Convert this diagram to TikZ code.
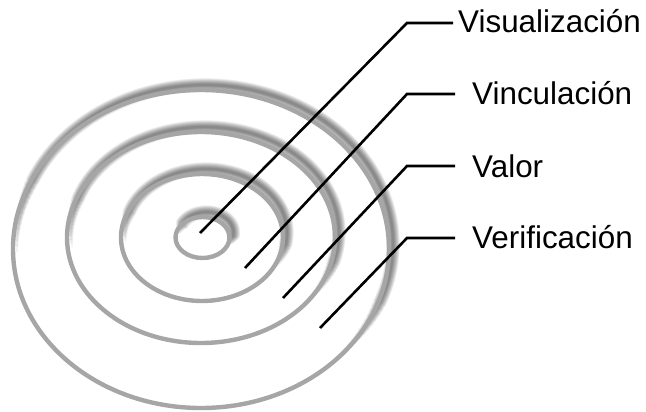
\documentclass[tikz,border=0pt]{standalone}
\usepackage{fontspec}
\setmainfont{Liberation Sans}
\definecolor{ringgray}{HTML}{A6A6A6}
\begin{document}
\begin{tikzpicture}[x=1pt,y=-1pt,
  ring/.style={draw=ringgray,line width=4.4pt},
  leader/.style={draw=black,line width=2.6pt},
  lab/.style={anchor=base west,inner sep=0pt,font=\fontsize{31.4}{36}\selectfont}]
\useasboundingbox (0,0) rectangle (646,412);
% shadows
\foreach \cx/\cy/\rx/\ry/\a/\b in {202.5/237.5/27/20.5/-40/185, 202/237.5/81/63.5/-40/190, 201/237.5/134/105.5/-45/190, 201/249/188/159/-50/185}{
  \foreach \k in {1,...,14}{
    \pgfmathsetmacro\lw{1+0.9*\k}
    \pgfmathsetmacro\sa{\a+2*\k}
    \pgfmathsetmacro\ea{\b-2*\k}
    \draw[black, opacity=0.045, line width=\lw pt, shift={(4,-5)}]
      (\cx,\cy) ++(\sa:\rx pt and \ry pt)
      arc[start angle=\sa, end angle=\ea, x radius=\rx pt, y radius=\ry pt];
  }
}
% rings
\draw[ring] (202.5,237.5) ellipse [x radius=27pt, y radius=20.5pt];
\draw[ring] (202,237.5) ellipse [x radius=81pt, y radius=63.5pt];
\draw[ring] (201,237.5) ellipse [x radius=134pt, y radius=105.5pt];
\draw[ring] (201,249) ellipse [x radius=188pt, y radius=159pt];
% labels
\node[lab] (v1) at (458,33) {Visualización};
\node[lab] (v2) at (472,105) {Vinculación};
\node[lab] (v3) at (472,177) {Valor};
\node[lab] (v4) at (472,248) {Verificación};
% leader points
\coordinate (s1) at (200,233); \coordinate (c1) at (407,23); \coordinate (e1) at (453,23);
\coordinate (s2) at (245,268); \coordinate (c2) at (407,94); \coordinate (e2) at (455,94);
\coordinate (s3) at (283,298); \coordinate (c3) at (407,166); \coordinate (e3) at (455,166);
\coordinate (s4) at (320,328); \coordinate (c4) at (407,238); \coordinate (e4) at (455,238);
\draw[leader] (s1) -- (c1) -- (e1);
\draw[leader] (s2) -- (c2) -- (e2);
\draw[leader] (s3) -- (c3) -- (e3);
\draw[leader] (s4) -- (c4) -- (e4);
\end{tikzpicture}
\end{document}
